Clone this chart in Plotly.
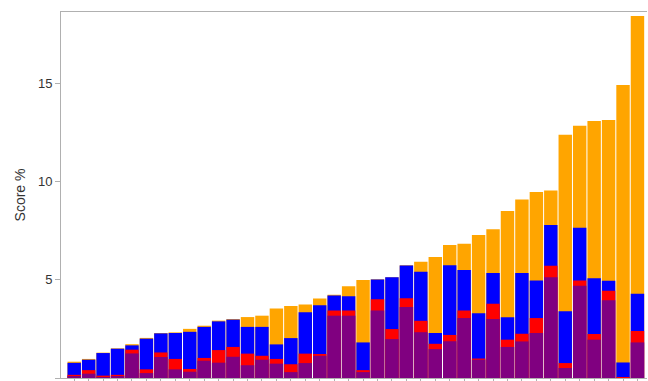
import plotly.graph_objects as go

# Cumulative score levels per item (each level is drawn from zero, so the
# lower components sit in front of the higher ones).
items = list(range(1, 41))
total_score = [0.83, 0.97, 1.29, 1.51, 1.72, 2.04, 2.29, 2.32, 2.50, 2.66,
               2.92, 3.00, 3.10, 3.17, 3.54, 3.66, 3.74, 4.05, 4.24, 4.67,
               4.98, 5.03, 5.13, 5.73, 5.91, 6.15, 6.76, 6.83, 7.27, 7.57,
               8.50, 9.08, 9.46, 9.54, 12.37, 12.83, 13.07, 13.13, 14.90, 18.42]
blue_level = [0.77, 0.93, 1.27, 1.49, 1.66, 2.00, 2.27, 2.29, 2.35, 2.60,
              2.88, 2.97, 2.60, 2.60, 1.71, 2.03, 3.34, 3.70, 4.20, 4.16,
              1.81, 5.01, 5.12, 5.72, 5.40, 2.29, 5.74, 5.50, 3.30, 5.34,
              3.09, 5.34, 4.96, 7.78, 3.40, 7.64, 5.08, 4.95, 0.79, 4.29]
red_level = [0.16, 0.40, 0.12, 0.16, 1.44, 0.44, 1.30, 0.97, 0.46, 1.02,
             1.42, 1.58, 1.24, 1.13, 0.97, 0.70, 1.24, 1.22, 3.43, 3.43,
             0.40, 4.00, 2.49, 4.06, 2.91, 1.74, 2.19, 3.43, 0.99, 3.78,
             1.95, 2.25, 3.05, 5.71, 0.76, 4.96, 2.24, 4.44, 0.02, 2.39]
purple_level = [0.07, 0.22, 0.05, 0.07, 1.25, 0.25, 1.07, 0.44, 0.32, 0.88,
                0.78, 1.08, 0.65, 0.93, 0.73, 0.30, 0.76, 1.13, 3.17, 3.17,
                0.30, 3.43, 1.98, 3.61, 2.33, 1.47, 1.87, 3.05, 0.93, 3.00,
                1.58, 1.86, 2.29, 5.13, 0.51, 4.69, 1.95, 3.95, 0.00, 1.81]

series = [
    ("Total", total_score, "#FFA500"),
    ("Blue", blue_level, "#0000FF"),
    ("Red", red_level, "#FF0000"),
    ("Purple", purple_level, "#800080"),
]

fig = go.Figure()
for name, vals, color in series:
    fig.add_trace(go.Bar(
        x=items, y=vals, name=name,
        marker=dict(color=color, line=dict(width=0)),
    ))

fig.update_layout(
    width=648, height=381,
    margin=dict(l=61, r=1, t=12, b=3),
    barmode="overlay",
    bargap=0.07,
    showlegend=False,
    plot_bgcolor="white",
    paper_bgcolor="white",
    font=dict(family="Liberation Sans, Arial, sans-serif", size=13, color="#333333"),
)

fig.update_xaxes(
    range=[0.085, 40.66],
    showgrid=False, zeroline=False,
    showline=True, linecolor="#b0b0b0", linewidth=1, mirror=True,
    ticks="outside", ticklen=3, tickcolor="#b0b0b0",
    tickvals=items, showticklabels=False,
)
fig.update_yaxes(
    range=[0, 18.62],
    showgrid=False, zeroline=False,
    showline=True, linecolor="#b0b0b0", linewidth=1,
    ticks="outside", ticklen=5, tickcolor="#b0b0b0",
    tickvals=[0, 5, 10, 15],
    title=dict(text="Score %", standoff=9, font=dict(size=14, color="#333333")),
)

fig.write_html("out.html")
